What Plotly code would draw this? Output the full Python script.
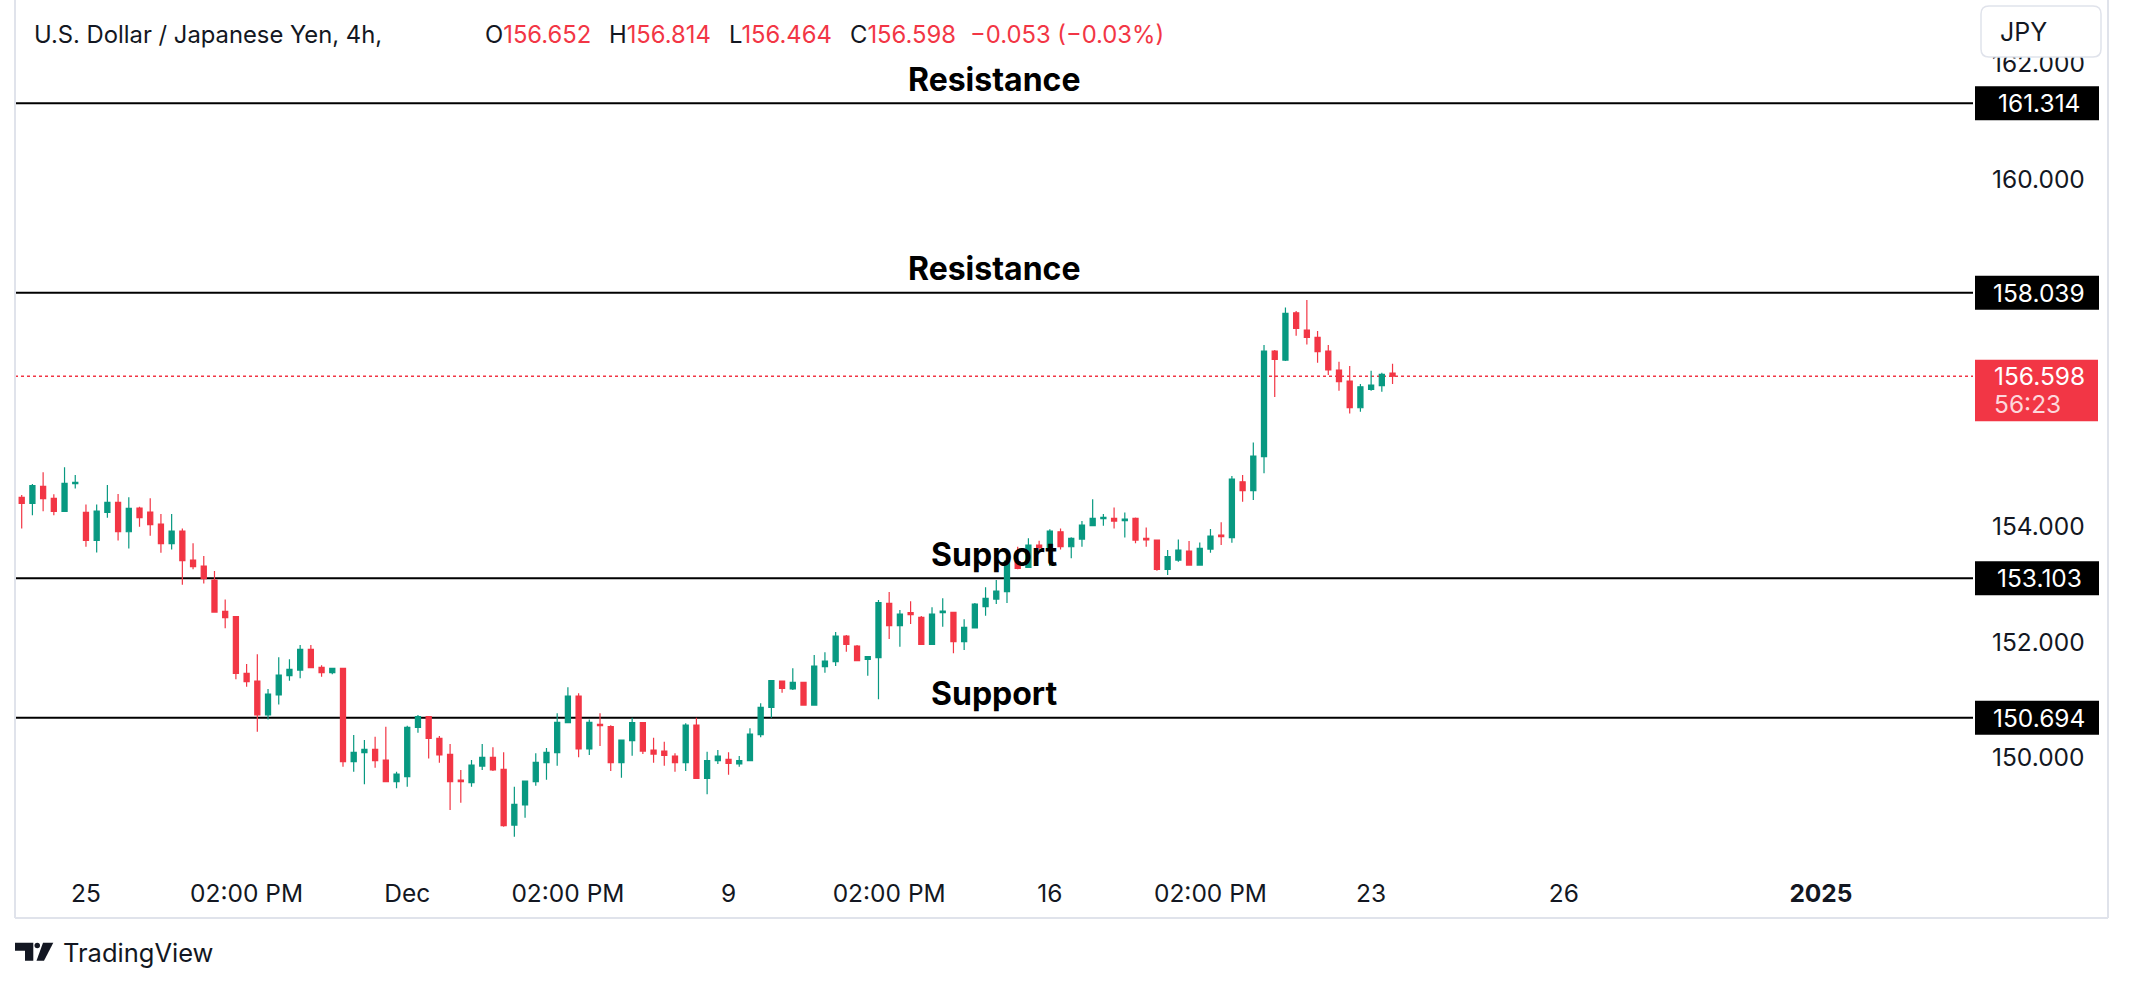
import plotly.graph_objects as go

# ---------------- data ----------------
opens = [154.503, 154.399, 154.693, 154.486, 154.261, 154.739, 154.243, 153.759, 154.243, 154.416,
         153.909, 154.318, 154.249, 154.042, 153.702, 153.921, 153.420, 153.316, 153.074, 152.533,
         152.441, 151.462, 151.329, 150.742, 151.087, 151.422, 151.519, 151.876, 151.565, 151.473,
         151.548, 149.935, 150.091, 150.148, 149.964, 149.590, 149.676, 150.528, 150.713, 150.338,
         150.062, 149.618, 149.572, 149.859, 150.010, 149.802, 148.840, 149.186, 149.590, 149.918,
         150.091, 150.609, 151.070, 150.154, 150.580, 150.540, 149.918, 150.298, 150.609, 150.137,
         150.119, 150.033, 149.918, 150.569, 149.647, 149.952, 149.976, 149.895, 149.952, 150.402,
         150.874, 151.329, 151.191, 151.306, 150.914, 151.577, 151.663, 152.107, 151.934, 151.704,
         151.732, 152.671, 152.285, 152.510, 152.429, 151.963, 152.510, 152.516, 152.009, 152.245,
         152.614, 152.746, 152.873, 153.391, 153.293, 153.679, 153.621, 153.909, 153.650, 153.783,
         154.013, 154.134, 154.140, 154.100, 154.140, 153.795, 153.765, 153.259, 153.419, 153.575,
         153.333, 153.610, 153.852, 153.806, 154.773, 154.618, 155.206, 157.032, 156.876, 157.694,
         157.395, 157.268, 157.032, 156.704, 156.513, 156.052, 156.369, 156.433, 156.652]
highs = [154.543, 154.734, 154.935, 154.555, 155.022, 154.889, 154.381, 154.381, 154.716, 154.560,
         154.503, 154.341, 154.486, 154.215, 154.215, 153.967, 153.708, 153.489, 153.230, 152.740,
         152.452, 151.623, 151.790, 151.191, 151.738, 151.704, 151.951, 151.951, 151.600, 151.560,
         151.560, 150.396, 150.310, 150.367, 150.540, 149.762, 150.557, 150.741, 150.724, 150.379,
         150.240, 149.791, 149.964, 150.240, 150.183, 150.096, 149.502, 149.601, 150.079, 150.171,
         150.771, 151.220, 151.116, 150.666, 150.771, 150.563, 150.310, 150.695, 150.621, 150.350,
         150.281, 150.079, 150.598, 150.695, 150.108, 150.137, 150.096, 150.033, 150.511, 150.943,
         151.346, 151.329, 151.548, 151.306, 151.779, 151.825, 152.176, 152.124, 151.951, 151.762,
         152.729, 152.867, 152.556, 152.706, 152.452, 152.602, 152.758, 152.527, 152.395, 152.677,
         152.948, 153.074, 153.466, 153.650, 153.795, 153.754, 153.950, 153.967, 153.812, 154.094,
         154.469, 154.215, 154.330, 154.243, 154.157, 153.984, 153.765, 153.592, 153.777, 153.748,
         153.725, 153.956, 154.071, 154.872, 154.889, 155.453, 157.136, 157.049, 157.786, 157.723,
         157.913, 157.378, 157.136, 156.848, 156.773, 156.461, 156.692, 156.657, 156.814]
lows = [153.967, 154.192, 154.261, 154.192, 154.261, 154.658, 153.650, 153.552, 154.151, 153.759,
        153.621, 153.995, 153.840, 153.546, 153.604, 152.993, 153.259, 153.016, 152.510, 152.239,
        151.358, 151.231, 150.454, 150.666, 150.925, 151.335, 151.375, 151.548, 151.404, 151.444,
        149.849, 149.762, 149.543, 149.831, 149.580, 149.474, 149.502, 150.436, 149.992, 149.918,
        149.099, 149.226, 149.502, 149.791, 149.774, 148.812, 148.638, 148.967, 149.520, 149.624,
        149.866, 150.609, 150.010, 150.050, 150.206, 149.774, 149.658, 150.039, 150.067, 149.918,
        149.866, 149.762, 149.774, 149.647, 149.370, 149.895, 149.710, 149.849, 149.952, 150.356,
        150.695, 151.128, 151.174, 150.903, 150.903, 151.473, 151.588, 151.836, 151.681, 151.422,
        151.012, 152.055, 151.921, 152.314, 151.963, 151.963, 152.268, 151.807, 151.865, 152.245,
        152.459, 152.660, 152.677, 153.259, 153.293, 153.592, 153.316, 153.604, 153.449, 153.650,
        154.013, 154.013, 153.967, 153.811, 153.708, 153.650, 153.235, 153.161, 153.390, 153.333,
        153.333, 153.546, 153.679, 153.719, 154.428, 154.457, 154.918, 156.237, 156.859, 157.297,
        157.147, 156.830, 156.617, 156.346, 155.954, 155.983, 156.346, 156.329, 156.464]
closes = [154.399, 154.705, 154.480, 154.261, 154.745, 154.762, 153.759, 154.266, 154.416, 153.909,
          154.312, 154.151, 154.030, 153.702, 153.921, 153.408, 153.305, 153.097, 152.521, 152.424,
          151.462, 151.318, 150.742, 151.105, 151.433, 151.531, 151.876, 151.560, 151.473, 151.548,
          149.935, 150.096, 150.148, 149.952, 149.590, 149.722, 150.528, 150.713, 150.338, 150.050,
          149.590, 149.590, 149.877, 150.010, 149.791, 148.829, 149.197, 149.601, 149.924, 150.096,
          150.615, 151.070, 150.154, 150.615, 150.557, 149.918, 150.310, 150.609, 150.119, 150.067,
          150.044, 149.918, 150.569, 149.647, 149.952, 150.033, 149.906, 149.952, 150.413, 150.874,
          151.335, 151.202, 151.306, 150.914, 151.588, 151.675, 152.107, 151.963, 151.681, 151.750,
          152.683, 152.285, 152.487, 152.475, 151.963, 152.487, 152.539, 152.009, 152.257, 152.660,
          152.758, 152.885, 153.403, 153.276, 153.679, 153.638, 153.921, 153.650, 153.795, 154.025,
          154.140, 154.157, 154.094, 154.128, 153.765, 153.766, 153.259, 153.478, 153.592, 153.333,
          153.621, 153.835, 153.823, 154.820, 154.618, 155.217, 157.032, 156.888, 157.683, 157.424,
          157.268, 157.021, 156.704, 156.502, 156.052, 156.415, 156.444, 156.628, 156.598]

x_tick_pos = [6, 21, 36, 51, 66, 81, 96, 111, 126, 144, 168]
x_tick_text = ["25", "02:00 PM", "Dec", "02:00 PM", "9", "02:00 PM", "16", "02:00 PM", "23", "26", "<b>2025</b>"]
y_tick_vals = [150, 152, 154, 160, 162]

levels = [161.314, 158.039, 153.103, 150.694]
level_names = ["Resistance", "Resistance", "Support", "Support"]

last_price = 156.598
countdown = "56:23"
title_text = "U.S. Dollar / Japanese Yen, 4h,"
ohlc_labels = ["O", "H", "L", "C"]
ohlc_values = ["156.652", "156.814", "156.464", "156.598"]
change_text = "\u22120.053 (\u22120.03%)"

# ---------------- style / geometry ----------------
W, H = 2129, 988
L, R, T, B = 15, 1973, 0, 866
Y_RANGE = [148.132, 163.099]
X_RANGE = [-0.626, 182.2]
GREEN = "#089981"
RED = "#F23645"
INK = "#131722"
FONT = "Inter, Roboto, Arial, sans-serif"
SCALE = (B - T) / (Y_RANGE[1] - Y_RANGE[0])  # px per price unit
AX_FS = 24.5
HDR_FS = 23.8


def px(xp):
    return (xp - L) / (R - L)


def py(yp):
    return (B - yp) / (B - T)


idx = list(range(len(opens)))

fig = go.Figure()
fig.add_trace(go.Candlestick(
    x=idx, open=opens, high=highs, low=lows, close=closes,
    increasing=dict(line=dict(color=GREEN, width=1.2), fillcolor=GREEN),
    decreasing=dict(line=dict(color=RED, width=1.2), fillcolor=RED),
    whiskerwidth=0, hoverinfo="skip", showlegend=False,
))

shapes = []
annotations = []

# support / resistance lines
for lv, name in zip(levels, level_names):
    shapes.append(dict(type="line", xref="paper", x0=0, x1=1, yref="y", y0=lv, y1=lv,
                       line=dict(color="black", width=2), layer="below"))
    annotations.append(dict(text=f"<b>{name}</b>", xref="paper", x=0.5, yref="y", y=lv,
                            xanchor="center", yanchor="middle", yshift=24, showarrow=False,
                            font=dict(size=32, color="black", family=FONT)))
    # price label box
    h = 17 / SCALE
    shapes.append(dict(type="rect", xref="paper", x0=px(1975), x1=px(2099), yref="y",
                       y0=lv - h, y1=lv + h, fillcolor="black", line=dict(width=0), layer="above"))
    annotations.append(dict(text=f"{lv:.3f}", xref="paper", x=px(2039), yref="y", y=lv,
                            xanchor="center", yanchor="middle", showarrow=False,
                            font=dict(size=AX_FS, color="white", family=FONT)))

# current price dotted line + label
shapes.append(dict(type="line", xref="paper", x0=0, x1=1, yref="y", y0=last_price, y1=last_price,
                   line=dict(color=RED, width=1.5, dash="dot"), layer="below"))
shapes.append(dict(type="rect", xref="paper", x0=px(1975), x1=px(2098), yref="y",
                   y0=last_price - 45 / SCALE, y1=last_price + 16.5 / SCALE,
                   fillcolor=RED, line=dict(width=0), layer="above"))
annotations.append(dict(text=f"{last_price:.3f}", xref="paper", x=px(1992), yref="y", y=last_price,
                        xanchor="left", yanchor="middle", showarrow=False,
                        font=dict(size=AX_FS, color="white", family=FONT)))
annotations.append(dict(text=countdown, xref="paper", x=px(1992), yref="y", y=last_price,
                        xanchor="left", yanchor="middle", yshift=-28, showarrow=False,
                        font=dict(size=AX_FS, color="#FDD7DB", family=FONT)))


# JPY button
def rounded_rect(x0, y0, x1, y1, r):
    pts = (f"M {px(x0 + r)} {py(y0)} L {px(x1 - r)} {py(y0)} Q {px(x1)} {py(y0)} {px(x1)} {py(y0 + r)} "
           f"L {px(x1)} {py(y1 - r)} Q {px(x1)} {py(y1)} {px(x1 - r)} {py(y1)} "
           f"L {px(x0 + r)} {py(y1)} Q {px(x0)} {py(y1)} {px(x0)} {py(y1 - r)} "
           f"L {px(x0)} {py(y0 + r)} Q {px(x0)} {py(y0)} {px(x0 + r)} {py(y0)} Z")
    return pts


shapes.append(dict(type="path", xref="paper", yref="paper", path=rounded_rect(1981, 6, 2101, 57, 8),
                   fillcolor="white", line=dict(color="#E0E3EB", width=1.5), layer="above"))
annotations.append(dict(text="JPY", xref="paper", x=px(1998), yref="paper", y=py(32),
                        xanchor="left", yanchor="middle", showarrow=False,
                        font=dict(size=25, color=INK, family=FONT)))

# header
annotations.append(dict(text=title_text, xref="paper", x=px(32), yref="paper", y=py(34),
                        xanchor="left", yanchor="middle", showarrow=False,
                        font=dict(size=HDR_FS, color=INK, family=FONT)))
ohlc_x = [483, 607, 727, 848]
for lab, val, xp in zip(ohlc_labels, ohlc_values, ohlc_x):
    annotations.append(dict(text=f"{lab}<span style='color:{RED}'>{val}</span>", xref="paper", x=px(xp),
                            yref="paper", y=py(34), xanchor="left", yanchor="middle", showarrow=False,
                            font=dict(size=HDR_FS, color=INK, family=FONT)))
annotations.append(dict(text=change_text, xref="paper", x=px(968), yref="paper", y=py(34),
                        xanchor="left", yanchor="middle", showarrow=False,
                        font=dict(size=HDR_FS, color=RED, family=FONT)))

# frame
frame_col = "#E0E3EB"
shapes.append(dict(type="line", xref="paper", yref="paper", x0=px(15), x1=px(15), y0=py(0), y1=py(918),
                   line=dict(color=frame_col, width=2), layer="above"))
shapes.append(dict(type="line", xref="paper", yref="paper", x0=px(15), x1=px(2108), y0=py(918), y1=py(918),
                   line=dict(color=frame_col, width=2), layer="above"))
shapes.append(dict(type="line", xref="paper", yref="paper", x0=px(2108), x1=px(2108), y0=py(0), y1=py(918),
                   line=dict(color=frame_col, width=2), layer="above"))


# TradingView logo
def poly(points):
    s = "M " + " L ".join(f"{px(a)} {py(b)}" for a, b in points) + " Z"
    return s


shapes.append(dict(type="path", xref="paper", yref="paper",
                   path=poly([(15, 942.7), (33.3, 942.7), (33.3, 960.7), (25, 960.7), (25, 950.7), (15, 950.7)]),
                   fillcolor=INK, line=dict(width=0), layer="above"))
shapes.append(dict(type="circle", xref="paper", yref="paper", x0=px(34.5), x1=px(40), y0=py(942.7), y1=py(948.2),
                   fillcolor=INK, line=dict(width=0), layer="above"))
shapes.append(dict(type="path", xref="paper", yref="paper",
                   path=poly([(43, 942.7), (53.3, 942.7), (44, 960.7), (36.5, 960.7)]),
                   fillcolor=INK, line=dict(width=0), layer="above"))
annotations.append(dict(text="TradingView", xref="paper", x=px(61), yref="paper", y=py(952),
                        xanchor="left", yanchor="middle", showarrow=False,
                        font=dict(size=25.5, color=INK, family=FONT)))

fig.update_layout(
    width=W, height=H,
    margin=dict(l=L, r=W - R, t=T, b=H - B, pad=0),
    paper_bgcolor="white", plot_bgcolor="white",
    boxgap=0.32,
    showlegend=False,
    font=dict(family=FONT, color=INK),
    shapes=shapes, annotations=annotations,
    xaxis=dict(range=X_RANGE, showgrid=False, zeroline=False, showline=False,
               tickmode="array", tickvals=x_tick_pos, ticktext=x_tick_text,
               ticks="", ticklabelstandoff=10, tickfont=dict(size=AX_FS, color=INK, family=FONT),
               rangeslider=dict(visible=False), fixedrange=True),
    yaxis=dict(range=Y_RANGE, side="right", showgrid=False, zeroline=False, showline=False,
               tickmode="array", tickvals=y_tick_vals, ticktext=[f"{v:.3f}" for v in y_tick_vals],
               ticks="", ticklabelstandoff=18, tickfont=dict(size=AX_FS, color=INK, family=FONT),
               fixedrange=True),
)

fig.write_html("out.html")
